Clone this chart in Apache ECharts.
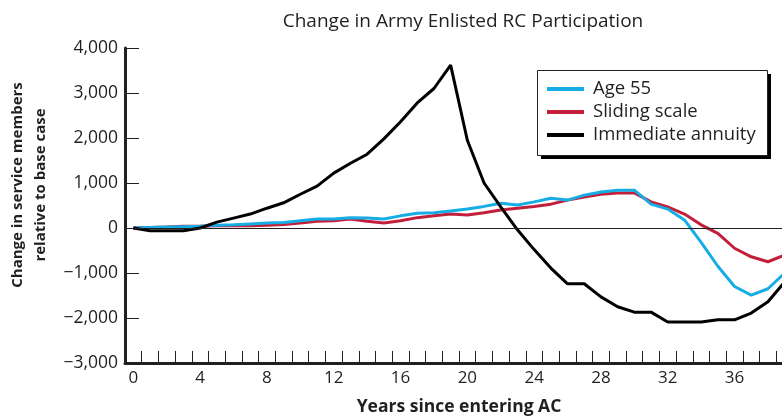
<!DOCTYPE html>
<html>
<head>
<meta charset="utf-8">
<script src="https://cdn.jsdelivr.net/npm/echarts@6/dist/echarts.min.js"></script>
<style>
  html, body { margin: 0; padding: 0; background: #fff; }
  #chart { width: 782px; height: 417px; }
</style>
</head>
<body>
<div id="chart"></div>
<script>
// years since entering AC
const years = ['0','1','2','3','4','5','6','7','8','9','10','11','12','13','14','15','16','17','18','19',
  '20','21','22','23','24','25','26','27','28','29','30','31','32','33','34','35','36','37','38','39'];

const age55 = [0, 10, 20, 30, 40, 60, 70, 90, 110, 120, 160, 200, 200, 230, 220, 200, 270, 330, 340, 380,
  420, 480, 550, 510, 580, 660, 620, 730, 800, 840, 840, 530, 420, 180, -320, -850, -1300, -1490, -1350, -1000];

const slidingScale = [0, 10, 20, 40, 40, 50, 50, 50, 60, 80, 110, 150, 160, 200, 150, 110, 160, 230, 270, 310,
  290, 340, 400, 440, 480, 530, 620, 690, 750, 780, 780, 580, 470, 310, 70, -120, -450, -640, -750, -600];

const immediateAnnuity = [0, -60, -60, -60, 0, 130, 220, 310, 440, 560, 750, 930, 1220, 1440, 1640, 1980, 2360, 2780, 3100, 3620,
  1950, 1000, 470, -40, -480, -890, -1240, -1240, -1530, -1750, -1870, -1870, -2090, -2090, -2090, -2040, -2040, -1890, -1640, -1200];

const yTicks = { min: -3000, max: 4000, step: 1000 };

const ink = '#231f20';
const font = '"Open Sans", "Noto Sans", sans-serif';

var myChart = echarts.init(document.getElementById('chart'), null, { width: 782, height: 417 });

myChart.setOption({
  animation: false,
  backgroundColor: '#fff',
  title: {
    text: 'Change in Army Enlisted RC Participation',
    left: 458,
    top: 7,
    textAlign: 'center',
    textStyle: { fontFamily: font, fontSize: 19, fontWeight: 'normal', color: ink }
  },
  // grid runs a little past the right edge, as in the cropped original
  grid: { left: 125, top: 48, width: 668, height: 315, containLabel: false, outerBoundsMode: 'none' },
  legend: {
    orient: 'vertical',
    left: 547,
    top: 79,
    padding: 0,
    itemWidth: 37,
    itemHeight: 4,
    itemGap: 3,
    icon: 'rect',
    z: 10,
    textStyle: { fontFamily: font, fontSize: 18.5, color: ink, lineHeight: 20, padding: [0, 0, 0, 4] },
    data: ['Age 55', 'Sliding scale', 'Immediate annuity']
  },
  graphic: [
    {
      // legend frame with its hard drop shadow
      type: 'rect',
      z: 5,
      shape: { x: 541, y: 74, width: 230, height: 85 },
      style: { fill: '#000' }
    },
    {
      type: 'rect',
      z: 6,
      shape: { x: 537.5, y: 70.5, width: 230, height: 85 },
      style: { fill: '#fff', stroke: ink, lineWidth: 1 }
    },
    {
      type: 'text',
      x: 29,
      y: 185,
      rotation: Math.PI / 2,
      style: {
        text: 'Change in service members\nrelative to base case',
        textAlign: 'center',
        textVerticalAlign: 'middle',
        lineHeight: 23,
        font: 'bold 15px ' + font,
        fill: ink
      }
    }
  ],
  xAxis: {
    type: 'category',
    data: years,
    boundaryGap: true,
    name: 'Years since entering AC',
    nameLocation: 'middle',
    nameGap: 35,
    nameTextStyle: { fontFamily: font, fontSize: 17.5, fontWeight: 'bold', color: ink },
    axisLine: { onZero: false, lineStyle: { color: ink, width: 3 } },
    axisTick: { show: true, inside: true, length: 12, interval: 0, lineStyle: { color: ink, width: 1 } },
    axisLabel: { interval: 3, margin: 7, fontFamily: font, fontSize: 17, color: ink },
    splitLine: { show: false }
  },
  yAxis: {
    type: 'value',
    min: yTicks.min,
    max: yTicks.max,
    interval: yTicks.step,
    axisLine: { show: true, lineStyle: { color: ink, width: 3 } },
    axisTick: { show: true, inside: true, length: 14, lineStyle: { color: ink, width: 1 } },
    axisLabel: {
      margin: 7,
      fontFamily: font,
      fontSize: 17.5,
      color: ink,
      formatter: function (v) {
        return (v < 0 ? '\u2212' : '') + Math.abs(v).toLocaleString('en-US');
      }
    },
    splitLine: { show: false }
  },
  series: [
    {
      name: 'Sliding scale',
      type: 'line',
      data: slidingScale,
      color: '#c41f3a',
      symbol: 'none',
      lineStyle: { width: 3, color: '#c41f3a' },
      markLine: {
        silent: true,
        symbol: 'none',
        label: { show: false },
        lineStyle: { color: ink, width: 1, type: 'solid' },
        data: [{ yAxis: 0 }]
      }
    },
    {
      name: 'Age 55',
      type: 'line',
      data: age55,
      color: '#16ade5',
      symbol: 'none',
      lineStyle: { width: 3, color: '#16ade5' }
    },
    {
      name: 'Immediate annuity',
      type: 'line',
      data: immediateAnnuity,
      color: '#000',
      symbol: 'none',
      lineStyle: { width: 3, color: '#000' }
    }
  ]
});
</script>
</body>
</html>
